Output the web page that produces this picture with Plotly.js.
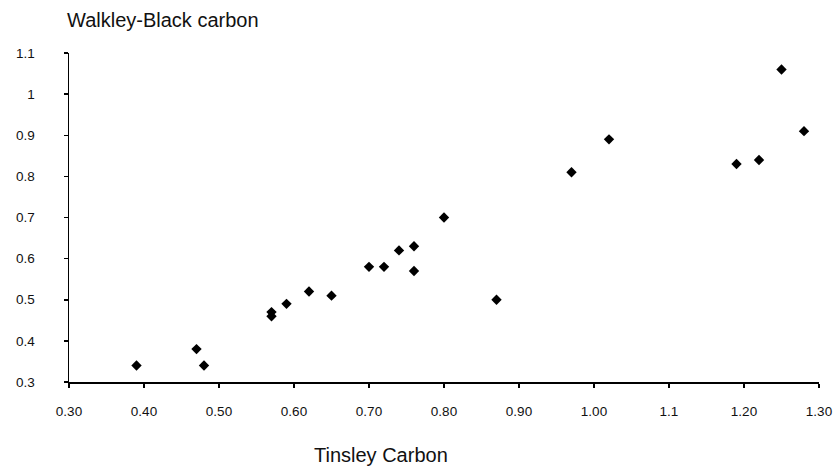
<!DOCTYPE html>
<html>
<head>
<meta charset="utf-8">
<script src="https://cdn.plot.ly/plotly-3.0.1.min.js"></script>
<style>html,body{margin:0;padding:0;background:#fff;}#chart{width:839px;height:467px;}</style>
</head>
<body>
<div id="chart"></div>
<script>
const tinsley = [0.39,0.47,0.48,0.57,0.57,0.59,0.62,0.65,0.70,0.72,0.74,0.76,0.76,0.80,0.87,0.97,1.02,1.19,1.22,1.25,1.28];
const walkley = [0.34,0.38,0.34,0.46,0.47,0.49,0.52,0.51,0.58,0.58,0.62,0.63,0.57,0.70,0.50,0.81,0.89,0.83,0.84,1.06,0.91];
const xTickVals = [0.3,0.4,0.5,0.6,0.7,0.8,0.9,1.0,1.1,1.2,1.3];
const xTickText = ["0.30","0.40","0.50","0.60","0.70","0.80","0.90","1.00","1.1","1.20","1.30"];
const yTickVals = [0.3,0.4,0.5,0.6,0.7,0.8,0.9,1.0,1.1];
const yTickText = ["0.3","0.4","0.5","0.6","0.7","0.8","0.9","1","1.1"];

const font = {family: "Liberation Sans, Arial, sans-serif", color: "#111"};

Plotly.newPlot("chart", [{
  x: tinsley, y: walkley, type: "scatter", mode: "markers",
  marker: {symbol: "diamond", size: 8, color: "#000"},
  cliponaxis: false, hoverinfo: "x+y"
}], {
  width: 839, height: 467,
  margin: {l: 69, r: 20, t: 53, b: 85},
  paper_bgcolor: "#fff", plot_bgcolor: "#fff",
  font: Object.assign({size: 13}, font),
  showlegend: false,
  title: {text: "Walkley-Black carbon", xref: "container", yref: "container",
          x: 67/839, xanchor: "left", y: 1 - 20/467, yanchor: "middle",
          font: Object.assign({size: 20}, font)},
  xaxis: {range: [0.3, 1.3], tickvals: xTickVals, ticktext: xTickText,
          showgrid: false, zeroline: false, showline: true, linecolor: "#000", linewidth: 1.5,
          ticks: "outside", ticklen: 4, tickwidth: 1.5, tickcolor: "#000",
          ticklabelstandoff: 12, tickfont: Object.assign({size: 13.5}, font)},
  yaxis: {range: [0.3, 1.1], tickvals: yTickVals, ticktext: yTickText,
          showgrid: false, zeroline: false, showline: true, linecolor: "#000", linewidth: 1.5,
          ticks: "outside", ticklen: 4, tickwidth: 1.5, tickcolor: "#000",
          ticklabelstandoff: 26, tickfont: Object.assign({size: 13.5}, font)},
  annotations: [{text: "Tinsley Carbon", xref: "paper", yref: "paper",
                 x: (381-69)/750, y: -(455-382)/329, xanchor: "center", yanchor: "middle",
                 showarrow: false, font: Object.assign({size: 20}, font)}]
}, {displayModeBar: false, staticPlot: true});
</script>
</body>
</html>
